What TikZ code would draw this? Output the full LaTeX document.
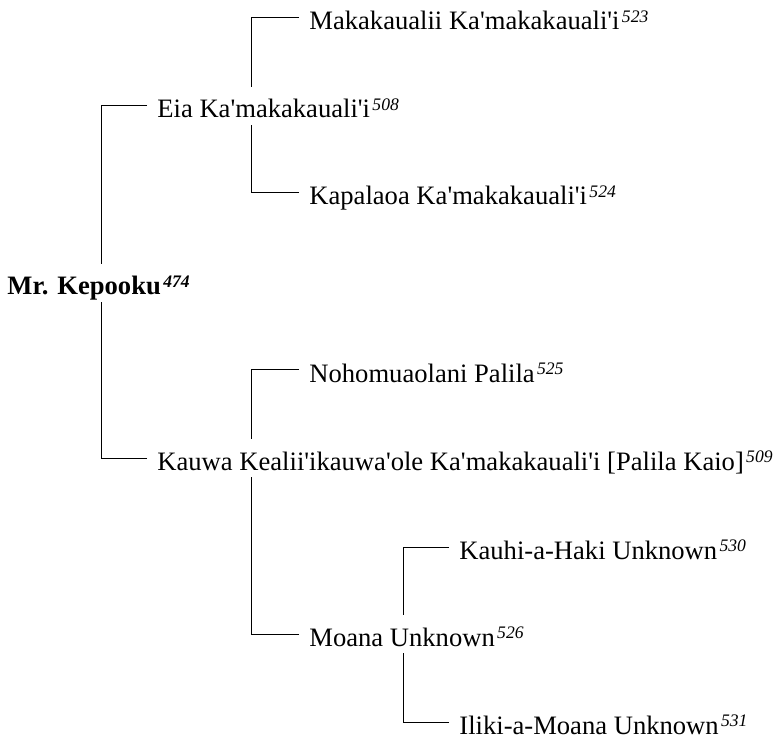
\documentclass[tikz,border=0pt]{standalone}
\usepackage{fontspec}
\setmainfont{Liberation Serif}[Ligatures=TeXOff]
\usepackage{tikz}
\usetikzlibrary{positioning}

\newcommand{\refnum}[1]{\kern1.2pt\raisebox{3.8pt}{\fontsize{8.8}{9}\selectfont\itshape #1}}

\begin{document}
\begin{tikzpicture}[
    x=0.5pt, y=-0.5pt,
    person/.style={
        anchor=west,
        inner xsep=5pt,
        inner ysep=0pt,
        text height=15.5pt,
        text depth=3.5pt,
        font=\fontsize{13.3}{16}\selectfont
    },
    rootperson/.style={
        person,
        font=\fontsize{13.3}{16}\selectfont\bfseries
    },
    link/.style={
        draw,
        line width=0.5pt
    }
]
\useasboundingbox (0,0) rectangle (780,742);

% Root person on the left
\node[rootperson] (kep) at (-3,283) {Mr. Kepooku\refnum{474}};

% Children
\node[person] (eia)   at (147,106) {Eia Ka'makakauali'i\refnum{508}};
\node[person] (kauwa) at (147,458) {Kauwa Kealii'ikauwa'ole Ka'makakauali'i [Palila Kaio]\refnum{509}};

% Grandchildren
\node[person] (mak)   at (299,18)  {Makakaualii Ka'makakauali'i\refnum{523}};
\node[person] (kap)   at (299,193) {Kapalaoa Ka'makakauali'i\refnum{524}};
\node[person] (noho)  at (299,370) {Nohomuaolani Palila\refnum{525}};
\node[person] (moana) at (299,634) {Moana Unknown\refnum{526}};

% Great-grandchildren
\node[person] (kauhi) at (449,547) {Kauhi-a-Haki Unknown\refnum{530}};
\node[person] (iliki) at (449,722) {Iliki-a-Moana Unknown\refnum{531}};

% Links from the root
\draw[link] (eia.west)   -| ([xshift=52pt]kep.north west);
\draw[link] (kauwa.west) -| ([xshift=52pt]kep.south west);

% Links from Eia
\draw[link] (mak.west) -| ([xshift=52pt]eia.north west);
\draw[link] (kap.west) -| ([xshift=52pt]eia.south west);

% Links from Kauwa
\draw[link] (noho.west)  -| ([xshift=52pt]kauwa.north west);
\draw[link] (moana.west) -| ([xshift=52pt]kauwa.south west);

% Links from Moana
\draw[link] (kauhi.west) -| ([xshift=52pt]moana.north west);
\draw[link] (iliki.west) -| ([xshift=52pt]moana.south west);

\end{tikzpicture}
\end{document}
